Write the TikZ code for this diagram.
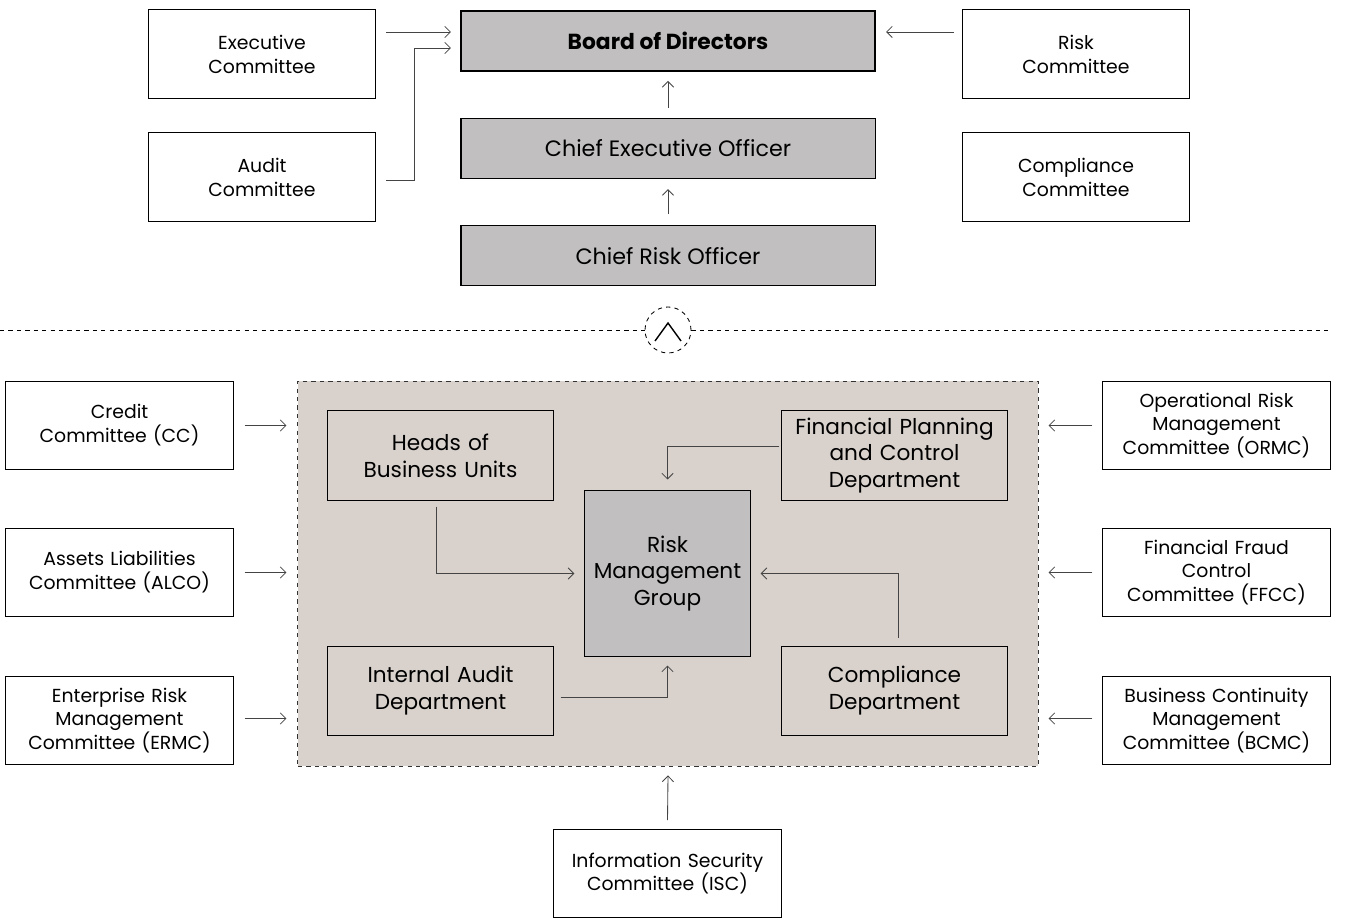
\documentclass[tikz,border=0pt]{standalone}
\usepackage{fontspec}
\setmainfont{Poppins}
\usetikzlibrary{positioning,arrows.meta}
\definecolor{boardgray}{HTML}{C1BFC0}
\definecolor{panelbeige}{HTML}{D9D2CC}
\definecolor{linegray}{HTML}{444444}

\begin{document}
\begin{tikzpicture}[x=0.025cm, y=-0.025cm, node distance=1.15cm]
    % Define styles
    \tikzstyle{committee}=[rectangle, draw=black, fill=white, line width=0.7pt, text width=5.4cm, text centered, minimum width=5.675cm, minimum height=2.2cm, font=\fontsize{13.4}{17}\selectfont]
    \tikzstyle{officer}=[rectangle, draw=black, fill=boardgray, line width=0.8pt, minimum width=10.35cm, minimum height=1.5cm, font=\fontsize{15.8}{19}\selectfont]
    \tikzstyle{unit}=[rectangle, draw=black, line width=0.7pt, text width=5.4cm, text centered, minimum width=5.625cm, minimum height=2.225cm, font=\fontsize{15.4}{19}\selectfont]
    \tikzstyle{arrow}=[->, draw=linegray, line width=0.6pt, >={Straight Barb[length=4pt,width=8pt]}]

    \useasboundingbox (0,0) rectangle (1345,918);

    % Governance layer
    \node[officer, line width=1.4pt, font=\bfseries\fontsize{15.5}{19}\selectfont] (board) at (668,41) {Board of Directors};
    \node[officer] (ceo) [below=of board] {Chief Executive Officer};
    \node[officer] (cro) [below=of ceo] {Chief Risk Officer};

    \node[committee] (execcom) at (262,54) {Executive\\Committee};
    \node[committee] (auditcom) at (262,177) {Audit\\Committee};
    \node[committee] (riskcom) at (1076,54) {Risk\\Committee};
    \node[committee] (compcom) at (1076,177) {Compliance\\Committee};

    \draw[arrow] ([shift={(10,-22)}]execcom.east) -- ([shift={(-9,-9)}]board.west);
    \draw[arrow] ([shift={(10,3)}]auditcom.east) -- ++(28,0) |- ([shift={(-9,7)}]board.west);
    \draw[arrow] ([shift={(-8,-22)}]riskcom.west) -- ([shift={(10,-9)}]board.east);
    \draw[arrow] ([shift={(0,-10)}]ceo.north) -- ([shift={(0,9)}]board.south);
    \draw[arrow] ([shift={(0,-11)}]cro.north) -- ([shift={(0,10)}]ceo.south);

    % Divider
    \node[circle, draw=black, dashed, line width=0.6pt, minimum size=1.15cm] (divider) at (668,330) {};
    \coordinate (leftend) at (0,330);
    \coordinate (rightend) at (1330,330);
    \draw[dashed, line width=0.6pt] (leftend) -- (divider.west);
    \draw[dashed, line width=0.6pt] (divider.east) -- (rightend);
    \draw[line width=1pt] (655,341) -- (668,323) -- (681,341);

    % Risk management panel
    \node[rectangle, draw=black!80, dashed, line width=0.6pt, fill=panelbeige, minimum width=18.5cm, minimum height=9.625cm] (panel) at (668,573.5) {};

    \node[unit] (heads) at (440.5,455.5) {Heads of\\Business Units};
    \node[unit] (fpc) at (894.5,455.5) {Financial Planning\\and Control\\Department};
    \node[unit, fill=boardgray, text width=3.9cm, minimum width=4.125cm, minimum height=4.125cm] (rmg) at (667.5,573.5) {Risk\\Management\\Group};
    \node[unit] (iad) at (440.5,690.5) {Internal Audit\\Department};
    \node[unit] (compdept) at (894.5,690.5) {Compliance\\Department};

    \draw[arrow] ([shift={(-4,6)}]heads.south) |- ([shift={(-10,0)}]rmg.west);
    \draw[arrow] ([shift={(-2,-9.5)}]fpc.west) -| ([shift={(0,-11)}]rmg.north);
    \draw[arrow] ([shift={(7,6.5)}]iad.east) -| ([shift={(0,9)}]rmg.south);
    \draw[arrow] ([shift={(3.5,-8)}]compdept.north) |- ([shift={(10,0)}]rmg.east);

    % Management committees
    \node[committee] (cc) at (119.5,425.5) {Credit\\Committee (CC)};
    \node[committee] (alco) at (119.5,572.5) {Assets Liabilities\\Committee (ALCO)};
    \node[committee] (ermc) at (119.5,720.5) {Enterprise Risk\\Management\\Committee (ERMC)};
    \node[committee] (ormc) at (1216.5,425.5) {Operational Risk\\Management\\Committee (ORMC)};
    \node[committee] (ffcc) at (1216.5,572.5) {Financial Fraud\\Control\\Committee (FFCC)};
    \node[committee] (bcmc) at (1216.5,720.5) {Business Continuity\\Management\\Committee (BCMC)};
    \node[committee] (isc) at (667.5,873.5) {Information Security\\Committee (ISC)};

    \draw[arrow] ([shift={(11,0)}]cc.east) -- ([shift={(-11,0)}]cc.east -| panel.west);
    \draw[arrow] ([shift={(11,0)}]alco.east) -- ([shift={(-11,0)}]alco.east -| panel.west);
    \draw[arrow] ([shift={(11,-2)}]ermc.east) -- ([shift={(-11,-2)}]ermc.east -| panel.west);
    \draw[arrow] ([shift={(-10,0)}]ormc.west) -- ([shift={(10,0)}]ormc.west -| panel.east);
    \draw[arrow] ([shift={(-10,0)}]ffcc.west) -- ([shift={(10,0)}]ffcc.west -| panel.east);
    \draw[arrow] ([shift={(-10,-2)}]bcmc.west) -- ([shift={(10,-2)}]bcmc.west -| panel.east);
    \draw[arrow] ([shift={(0,-9)}]isc.north) -- ([shift={(0,9)}]panel.south);
\end{tikzpicture}
\end{document}
